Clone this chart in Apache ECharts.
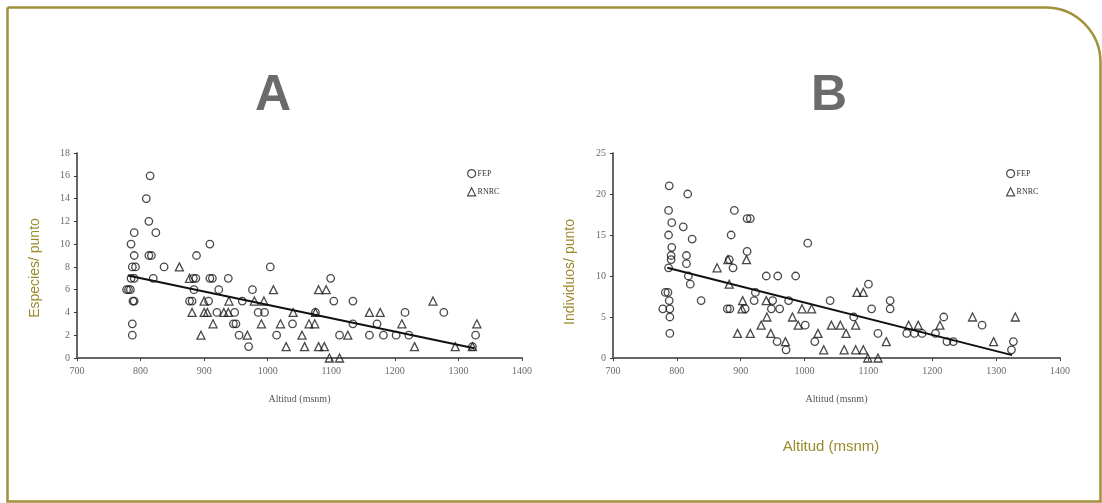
<!DOCTYPE html>
<html>
<head>
<meta charset="utf-8">
<script src="https://cdn.jsdelivr.net/npm/echarts@6/dist/echarts.min.js"></script>
<style>
html,body{margin:0;padding:0;background:#fff;}
#chart{width:1102px;height:503px;}
</style>
</head>
<body>
<div id="chart"></div>
<script>
// ---- Data (altitude m, value) ----
const xTicksMin = 700, xTicksMax = 1400, xTickStep = 100;

const fepA = [[815,16],[809,14],[813,12],[790,11],[824,11],[785,10],[790,9],[813,9],[817,9],[787,8],[792,8],[837,8],[785,7],[790,7],[820,7],[778,6],[781,6],[784,6],[788,5],[790,5],[787,3],[787,2],
[883,7],[887,7],[909,10],[888,9],[909,7],[913,7],[938,7],[884,6],[923,6],[976,6],[877,5],[881,5],[907,5],[960,5],[920,4],[948,4],[985,4],[995,4],[946,3],[950,3],[955,2],[970,1],[1004,8],[1014,2],[1039,3],
[1075,4],[1099,7],[1104,5],[1113,2],[1134,5],[1134,3],[1160,2],[1172,3],[1182,2],[1202,2],[1216,4],[1222,2],[1277,4],[1322,1],[1327,2]];

const rnrcA = [[861,8],[877,7],[900,5],[939,5],[979,5],[994,5],[881,4],[900,4],[905,4],[931,4],[938,4],[914,3],[895,2],[968,2],[1009,6],[990,3],[1020,3],[1029,1],[1040,4],[1065,3],[1074,3],[1075,4],[1054,2],[1058,1],[1080,6],[1092,6],[1080,1],[1089,1],[1097,0],[1113,0],[1126,2],[1160,4],[1177,4],[1211,3],[1231,1],[1260,5],[1295,1],[1322,1],[1329,3]];

const trendA = [[780,7.25],[1325,0.85]];

const fepB = [[788,21],[817,20],[787,18],[890,18],[910,17],[915,17],[792,16.5],[810,16],[787,15],[885,15],[824,14.5],[792,13.5],[910,13],[791,12.5],[791,12],[815,12.5],[815,11.5],[882,12],[888,11],[787,11],[818,10],[821,9],[940,10],[958,10],[986,10],[923,8],[782,8],[786,8],[788,7],[838,7],[778,6],[789,6],[789,5],[789,3],[879,6],[883,6],[907,6],[921,7],[950,7],[948,6],[961,6],[957,2],[971,1],[1005,14],[1100,9],[975,7],[1040,7],[1134,7],[1134,6],[1105,6],[1077,5],[1001,4],[1115,3],[1016,2],[1160,3],[1172,3],[1184,3],[1205,3],[1218,5],[1223,2],[1233,2],[1278,4],[1327,2],[1324,1]];

const rnrcB = [[880,12],[909,12],[863,11],[882,9],[902,6],[903,7],[940,7],[932,4],[941,5],[895,3],[915,3],[947,3],[1082,8],[1092,8],[996,6],[1011,6],[1080,4],[981,5],[990,4],[1042,4],[1056,4],[1065,3],[1021,3],[1030,1],[1062,1],[1080,1],[1092,1],[1099,0],[1115,0],[1128,2],[970,2],[1163,4],[1178,4],[1212,4],[1263,5],[1296,2],[1330,5]];

const trendB = [[785,11],[1325,0.35]];

const yMaxA = 18, yStepA = 2;
const yMaxB = 25, yStepB = 5;

const titleA = 'A', titleB = 'B';
const yNameA = 'Especies/ punto', yNameB = 'Individuos/ punto';
const xName = 'Altitud (msnm)';
const seriesNames = ['FEP', 'RNRC'];

// ---- Styles ----
const olive = '#a0913a';
const olivetext = '#9a8a2c';
const tickFont = {fontFamily:'Liberation Serif', fontSize:10, color:'#6a6a6a'};
const plain = v => String(v);

function xAxisCfg(gi){
  return {
    type:'value', gridIndex:gi, min:xTicksMin, max:xTicksMax, interval:xTickStep,
    name:xName, nameLocation:'middle', nameGap:36,
    nameTextStyle:{fontFamily:'Liberation Serif', fontSize:10, color:'#555'},
    axisLine:{show:true, lineStyle:{color:'#666', width:2}},
    axisTick:{show:true, length:3, lineStyle:{color:'#444'}},
    axisLabel:Object.assign({margin:8, formatter:plain}, tickFont),
    splitLine:{show:false}
  };
}
function yAxisCfg(gi, max, step){
  return {
    type:'value', gridIndex:gi, min:0, max:max, interval:step,
    axisLine:{show:true, lineStyle:{color:'#333', width:1.5}},
    axisTick:{show:true, length:3, lineStyle:{color:'#333'}},
    axisLabel:Object.assign({margin:7, formatter:plain}, tickFont),
    splitLine:{show:false}
  };
}
const ptStyle = {color:'rgba(0,0,0,0)', borderColor:'#1a1a1a', borderWidth:1.3};

function scatter(name, data, gi, symbol, size){
  return {type:'scatter', name:name, xAxisIndex:gi, yAxisIndex:gi, data:data,
    symbol:symbol, symbolSize:size, itemStyle:ptStyle, z:3};
}
function trend(data, gi){
  return {type:'line', name:'trend'+gi, xAxisIndex:gi, yAxisIndex:gi, data:data,
    showSymbol:false, symbol:'none', lineStyle:{color:'#111', width:2}, z:4, silent:true};
}
function legendCfg(left){
  return {
    left:left, top:164, orient:'vertical', itemGap:9, itemWidth:8, itemHeight:8,
    data:seriesNames,
    itemStyle:{borderWidth:1.2},
    textStyle:{fontFamily:'Liberation Serif', fontSize:8, color:'#333', padding:[0,0,0,-3]},
    selectedMode:false
  };
}

const chart = echarts.init(document.getElementById('chart'), null, {renderer:'canvas'});
chart.setOption({
  animation:false,
  backgroundColor:'#fff',
  grid:[
    {left:77, top:153, width:445, height:205},
    {left:613, top:153, width:447, height:205}
  ],
  xAxis:[xAxisCfg(0), xAxisCfg(1)],
  yAxis:[yAxisCfg(0, yMaxA, yStepA), yAxisCfg(1, yMaxB, yStepB)],
  legend:[legendCfg(462), legendCfg(1001)],
  series:[
    scatter(seriesNames[0], fepA, 0, 'circle', 7.5),
    scatter(seriesNames[1], rnrcA, 0, 'triangle', 8),
    trend(trendA, 0),
    scatter(seriesNames[0], fepB, 1, 'circle', 7.5),
    scatter(seriesNames[1], rnrcB, 1, 'triangle', 8),
    trend(trendB, 1)
  ],
  graphic:[
    {type:'rect', left:5, top:5, shape:{width:1093, height:494, r:[0,55,0,0]},
     style:{fill:'none', stroke:olive, lineWidth:2.5}, z:0},
    {type:'text', x:273, y:96, style:{text:titleA, font:'bold 50px "Liberation Sans", Arial, sans-serif', fill:'#6b6b6b', textAlign:'center', textVerticalAlign:'middle'}},
    {type:'text', x:829, y:96, style:{text:titleB, font:'bold 50px "Liberation Sans", Arial, sans-serif', fill:'#6b6b6b', textAlign:'center', textVerticalAlign:'middle'}},
    {type:'text', x:35, y:268, rotation:Math.PI/2, style:{text:yNameA, font:'14px "Liberation Sans", Arial, sans-serif', fill:olivetext, textAlign:'center', textVerticalAlign:'middle'}},
    {type:'text', x:570, y:272, rotation:Math.PI/2, style:{text:yNameB, font:'14px "Liberation Sans", Arial, sans-serif', fill:olivetext, textAlign:'center', textVerticalAlign:'middle'}},
    {type:'text', x:831, y:447, style:{text:xName, font:'15px "Liberation Sans", Arial, sans-serif', fill:olivetext, textAlign:'center', textVerticalAlign:'middle'}}
  ]
});
</script>
</body>
</html>
